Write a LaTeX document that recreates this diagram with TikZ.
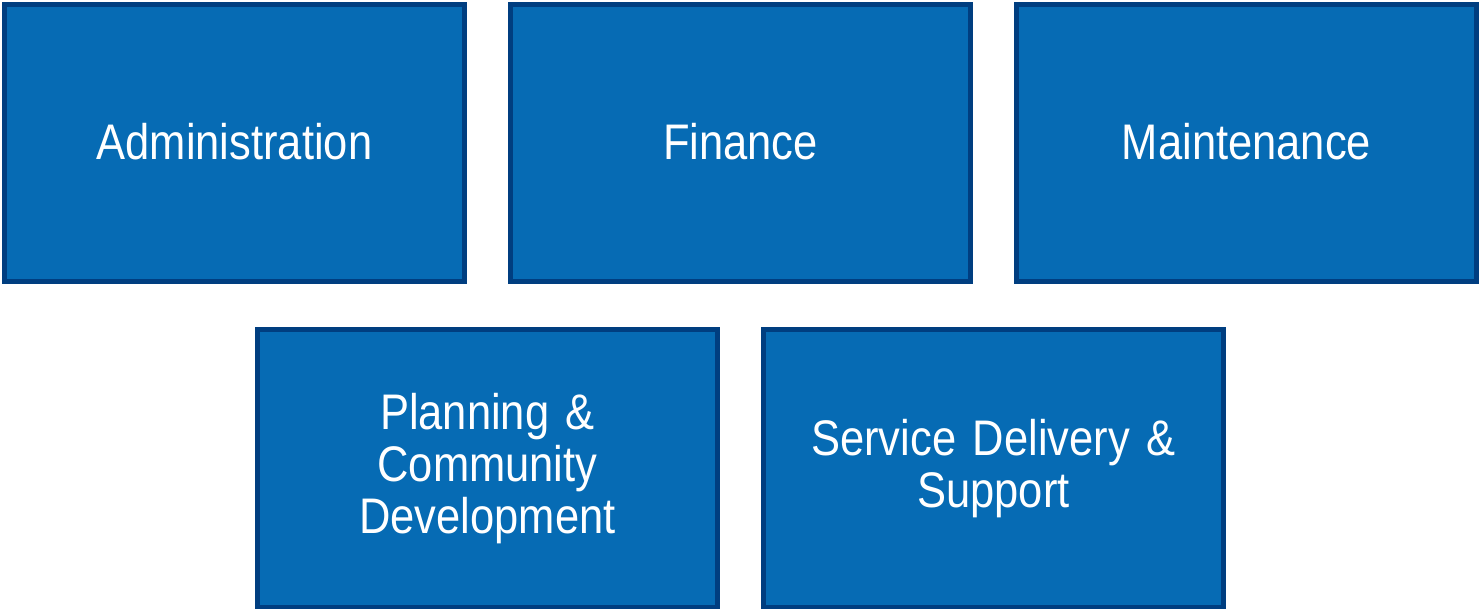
\documentclass[tikz,border=0pt]{standalone}
\usepackage{fontspec}
\setmainfont{Liberation Sans}
\newfontfamily\boxfont[FakeStretch=0.87,WordSpace=0.8]{Liberation Sans}
\definecolor{boxfill}{RGB}{6,107,180}
\definecolor{boxedge}{RGB}{0,62,128}
\begin{document}
\begin{tikzpicture}[x=1pt,y=-1pt,
  dept/.style={draw=boxedge, fill=boxfill, line width=5pt, minimum width=460pt, minimum height=277pt,
    inner sep=0pt, text=white, align=center, text width=440pt,
    font=\boxfont\fontsize{50}{52}\selectfont}]
\useasboundingbox (0,0) rectangle (1481,609);
\node[dept] (adm) at (234.5,143) {Administration\rule[-3pt]{0pt}{1pt}};
\node[dept] (fin) at (740.5,143) {Finance\rule[-3pt]{0pt}{1pt}};
\node[dept] (mai) at (1246.5,143) {Maintenance\rule[-3pt]{0pt}{1pt}};
\node[dept] (pla) at (487.5,468.5) {Planning \&\\Community\\Development};
\node[dept] (ser) at (993.5,468.5) {Service Delivery \&\\Support};
\end{tikzpicture}
\end{document}
